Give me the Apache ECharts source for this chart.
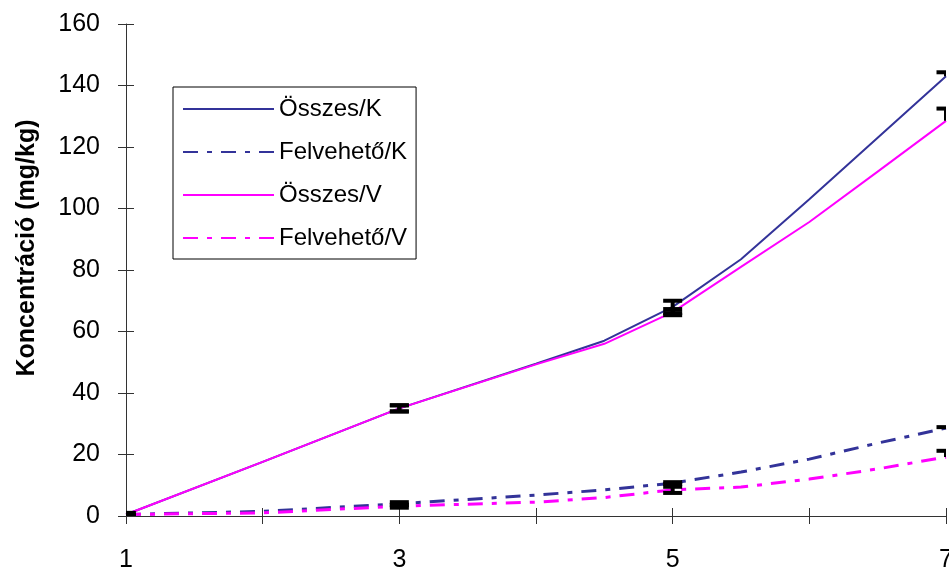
<!DOCTYPE html>
<html>
<head>
<meta charset="utf-8">
<script src="https://cdn.jsdelivr.net/npm/echarts@6/dist/echarts.min.js"></script>
<style>
  html, body { margin: 0; padding: 0; background: #fff; overflow: hidden; }
  #chart { width: 949px; height: 568px; }
</style>
</head>
<body>
<div id="chart"></div>
<script>
// Measurement points (x) shared by all four series
const xValues = [1, 2, 3, 4, 4.5, 5, 5.5, 6, 6.5, 7];

// Concentrations (mg/kg)
const osszesK   = [0.5, 17.6, 35, 49.5, 57, 68, 83.5, 103, 123, 143];
const felvehetoK = [0.5, 1.5, 4, 6.8, 8.5, 10.7, 14.3, 18.5, 23.7, 28.6];
const osszesV   = [0.5, 17.6, 35, 49.3, 56, 66.3, 81, 95.6, 112, 128.5];
const felvehetoV = [0.5, 1, 3.2, 4.5, 6, 8.5, 9.4, 12, 15.3, 19.2];

// Error bars (at x = 1, 3, 5, 7)
const errX = [1, 3, 5, 7];
const errUpOsszesK = [0.5, 1, 2, 1.3];
const errDownOsszesK = [0.5, 1, 2, 0];
const errUpOsszesV = [0.5, 1, 1, 4];
const errDownOsszesV = [0.5, 1, 1, 0];
const errUpFelvK = [0.3, 0.5, 0.3, 0.3];
const errDownFelvK = [0.3, 0.5, 0.3, 0];
const errUpFelvV = [0.3, 0.5, 1, 2];
const errDownFelvV = [0.3, 0.5, 1, 0];

// Axis ticks
const yMin = 0, yMax = 160, yStep = 20;
const xMin = 1, xMax = 7;

const seriesNames = ['Összes/K', 'Felvehető/K', 'Összes/V', 'Felvehető/V'];

const NAVY = '#333399';
const MAGENTA = '#FF00FF';
const DASH_DOT = [15, 9, 5, 9];

function pairs(ys) {
  return xValues.map((x, i) => [x, ys[i]]);
}

function errorRows(ys, ups, downs) {
  return errX.map((x, i) => [x, ys[xValues.indexOf(x)], ups[i], downs[i]]);
}

const errData = []
  .concat(errorRows(osszesK, errUpOsszesK, errDownOsszesK))
  .concat(errorRows(osszesV, errUpOsszesV, errDownOsszesV))
  .concat(errorRows(felvehetoK, errUpFelvK, errDownFelvK))
  .concat(errorRows(felvehetoV, errUpFelvV, errDownFelvV));

const chart = echarts.init(document.getElementById('chart'), null, { renderer: 'canvas', width: 949, height: 568 });

const FONT = '"Liberation Sans", Arial, sans-serif';
const axisLineStyle = { color: '#333', width: 1 };

const option = {
  animation: false,
  backgroundColor: '#fff',
  textStyle: { fontFamily: FONT },
  grid: { left: 126, right: 3, top: 24, bottom: 52, containLabel: false, outerBoundsMode: 'none' },
  legend: {
    orient: 'vertical',
    left: 173,
    top: 87,
    data: seriesNames,
    itemWidth: 91,
    itemHeight: 14,
    itemGap: 19,
    padding: [10, 9, 9, 9],
    borderColor: '#000',
    borderWidth: 1,
    backgroundColor: '#fff',
    itemStyle: { opacity: 0 },
    textStyle: { fontFamily: FONT, fontSize: 24, color: '#000' }
  },
  xAxis: [
    {
      type: 'value', min: xMin, max: xMax, interval: 1,
      axisLine: { show: true, onZero: false, lineStyle: axisLineStyle },
      axisTick: { show: true, inside: false, length: 8, lineStyle: axisLineStyle },
      splitLine: { show: false },
      axisLabel: {
        margin: 32, fontSize: 25, color: '#000', fontFamily: FONT,
        showMaxLabel: true, showMinLabel: true, hideOverlap: false,
        formatter: v => (v % 2 === 1 ? String(v) : '')
      }
    },
    {
      type: 'value', min: xMin, max: xMax, interval: 1, position: 'bottom',
      axisLine: { show: false },
      axisTick: { show: true, inside: true, length: 8, lineStyle: axisLineStyle },
      splitLine: { show: false },
      axisLabel: { show: false }
    }
  ],
  yAxis: [
    {
      type: 'value', min: yMin, max: yMax, interval: yStep,
      axisLine: { show: true, onZero: false, lineStyle: axisLineStyle },
      axisTick: { show: true, inside: false, length: 8, lineStyle: axisLineStyle },
      splitLine: { show: false },
      axisLabel: { margin: 26, fontSize: 25, color: '#000', fontFamily: FONT }
    },
    {
      type: 'value', min: yMin, max: yMax, interval: yStep, position: 'left',
      axisLine: { show: false },
      axisTick: { show: true, inside: true, length: 8, lineStyle: axisLineStyle },
      splitLine: { show: false },
      axisLabel: { show: false }
    }
  ],
  graphic: [
    {
      type: 'text',
      x: 27, y: 248,
      rotation: Math.PI / 2,
      style: {
        text: 'Koncentráció (mg/kg)',
        font: 'bold 25px ' + FONT,
        fill: '#000',
        align: 'center',
        verticalAlign: 'middle'
      }
    }
  ],
  series: [
    {
      name: seriesNames[0], type: 'line', data: pairs(osszesK),
      showSymbol: false, symbol: 'none', color: NAVY,
      lineStyle: { color: NAVY, width: 2 }
    },
    {
      name: seriesNames[1], type: 'line', data: pairs(felvehetoK),
      showSymbol: false, symbol: 'none', color: NAVY,
      lineStyle: { color: NAVY, width: 3, type: DASH_DOT }
    },
    {
      name: seriesNames[2], type: 'line', data: pairs(osszesV),
      showSymbol: false, symbol: 'none', color: MAGENTA,
      lineStyle: { color: MAGENTA, width: 2 }
    },
    {
      name: seriesNames[3], type: 'line', data: pairs(felvehetoV),
      showSymbol: false, symbol: 'none', color: MAGENTA,
      lineStyle: { color: MAGENTA, width: 3, type: DASH_DOT }
    },
    {
      name: 'hibasáv', type: 'custom', data: errData, clip: true, z: 5,
      renderItem: function (params, api) {
        const x = api.value(0), v = api.value(1), up = api.value(2), dn = api.value(3);
        const top = api.coord([x, v + up]);
        const bot = api.coord([x, v - dn]);
        const hw = 9.5;
        const style = { stroke: '#000', lineWidth: 4, fill: null };
        const children = [
          { type: 'line', shape: { x1: top[0], y1: top[1], x2: bot[0], y2: bot[1] }, style }
        ];
        if (up > 0) children.push({ type: 'line', shape: { x1: top[0] - hw, y1: top[1], x2: top[0] + hw, y2: top[1] }, style });
        if (dn > 0) children.push({ type: 'line', shape: { x1: bot[0] - hw, y1: bot[1], x2: bot[0] + hw, y2: bot[1] }, style });
        return { type: 'group', children };
      }
    }
  ]
};

chart.setOption(option);
</script>
</body>
</html>
